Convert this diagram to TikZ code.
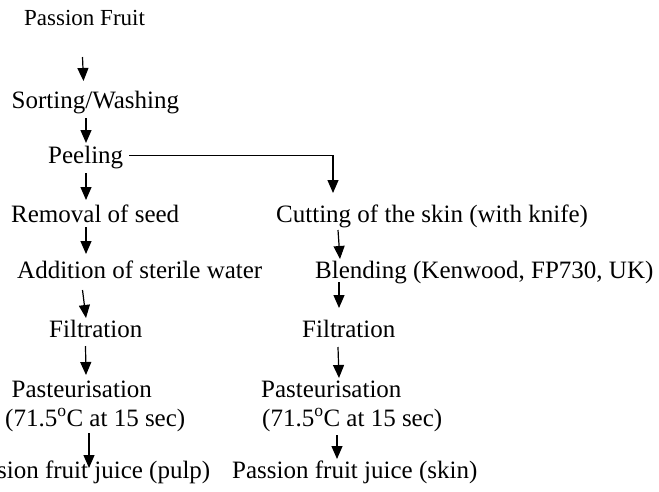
\documentclass[tikz,border=0pt]{standalone}
\usepackage{fontspec}
\setmainfont{Liberation Serif}
\usetikzlibrary{arrows.meta}
\begin{document}
\begin{tikzpicture}[x=1pt,y=-1pt,
  txt/.style={inner sep=0pt,anchor=base west,font=\fontsize{25}{30}\selectfont},
  arr/.style={line width=1.2pt,-{Triangle[length=13pt,width=11pt]}},
  ln/.style={line width=1.2pt}]
\useasboundingbox (0,0) rectangle (659,491);
% left column
\node[txt,font=\fontsize{23}{28}\selectfont] (pf) at (24,25.5) {Passion Fruit};
\node[txt] (sw) at (11.5,108) {Sorting/Washing};
\node[txt] (pe) at (48,163) {Peeling};
\node[txt] (rs) at (11,222) {Removal of seed};
\node[txt] (ad) at (17,278) {Addition of sterile water};
\node[txt] (f1) at (49,337) {Filtration};
\node[txt] (p1) at (11.5,397) {Pasteurisation};
\node[txt] (t1) at (5,426) {(71.5\textsuperscript{o}C at 15 sec)};
\node[txt,anchor=base east] (j1) at (210.5,478) {Passion fruit juice (pulp)};
% right column
\node[txt] (cu) at (276,222) {Cutting of the skin (with knife)};
\node[txt] (bl) at (315,278) {Blending (Kenwood, FP730, UK)};
\node[txt] (f2) at (302,337) {Filtration};
\node[txt] (p2) at (261,397) {Pasteurisation};
\node[txt] (t2) at (262,426) {(71.5\textsuperscript{o}C at 15 sec)};
\node[txt] (j2) at (232,478) {Passion fruit juice (skin)};
% connector end points
\coordinate (pf-o) at (82.5,57);   \coordinate (sw-i) at (83.5,81);
\coordinate (sw-o) at (86,118);    \coordinate (pe-i) at (86,143);
\coordinate (pe-o) at (86,173);    \coordinate (rs-i) at (86,200);
\coordinate (rs-o) at (86,227);    \coordinate (ad-i) at (86,254);
\coordinate (ad-o) at (82.5,290);  \coordinate (f1-i) at (86,318);
\coordinate (f1-o) at (85.5,346);  \coordinate (p1-i) at (86,375);
\coordinate (t1-o) at (89,433);    \coordinate (j1-i) at (89,468);
\coordinate (pe-r) at (129,155.5); \coordinate (cu-i) at (333,193);
\coordinate (cu-o) at (338,230);   \coordinate (bl-i) at (340,259);
\coordinate (bl-o) at (339,282);   \coordinate (f2-i) at (339,308);
\coordinate (f2-o) at (338,347);   \coordinate (p2-i) at (339,378);
\coordinate (t2-o) at (337,435);   \coordinate (j2-i) at (337,459);
% connectors
\draw[arr] (pf-o) -- (sw-i);
\draw[arr] (sw-o) -- (pe-i);
\draw[arr] (pe-o) -- (rs-i);
\draw[arr] (rs-o) -- (ad-i);
\draw[arr] (ad-o) -- (f1-i);
\draw[arr] (f1-o) -- (p1-i);
\draw[arr] (t1-o) -- (j1-i);
\draw[arr] (pe-r) -| (cu-i);
\draw[arr] (cu-o) -- (bl-i);
\draw[arr] (bl-o) -- (f2-i);
\draw[arr] (f2-o) -- (p2-i);
\draw[arr] (t2-o) -- (j2-i);
\end{tikzpicture}
\end{document}
